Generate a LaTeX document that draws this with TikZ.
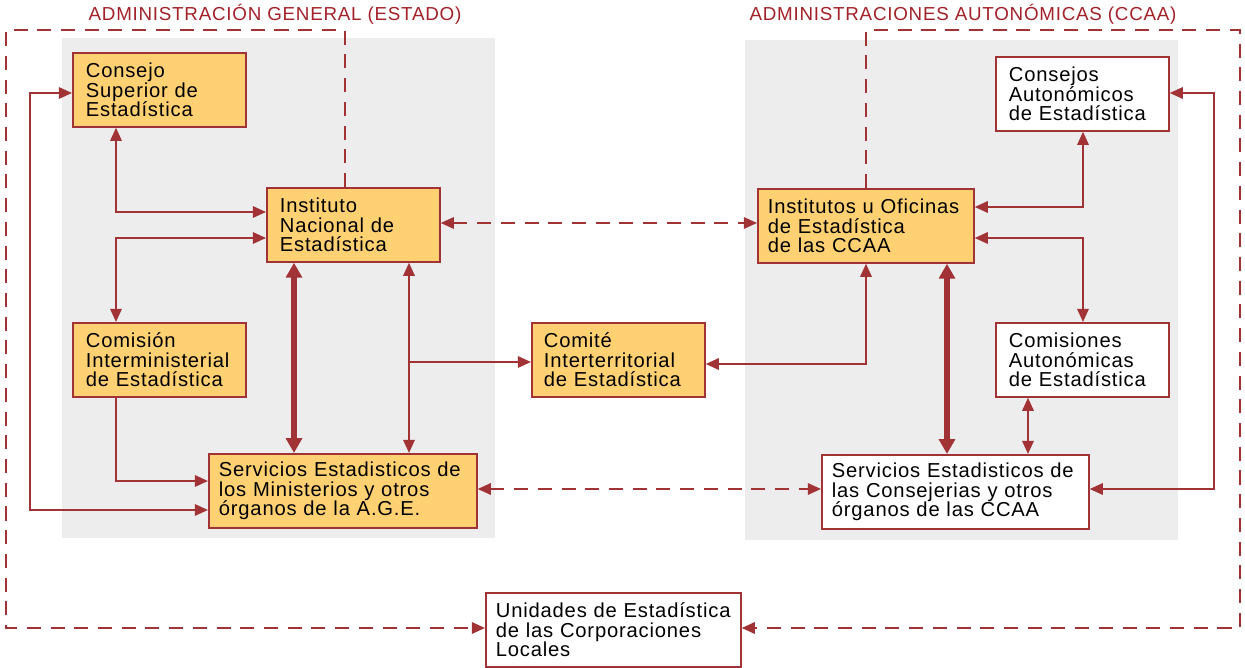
\documentclass[tikz,border=0pt]{standalone}
\usepackage{fontspec}
\setmainfont{Liberation Sans}[LetterSpace=4]
\usetikzlibrary{arrows.meta}
\definecolor{linecolor}{rgb}{0.63,0.2,0.21}
\definecolor{titlecolor}{rgb}{0.64,0.13,0.16}
\definecolor{boxcolor}{rgb}{1,0.82,0.45}
\definecolor{panelcolor}{rgb}{0.93,0.93,0.93}

\begin{document}
\begin{tikzpicture}[x=0.02cm, y=-0.02cm,
  >={Triangle[length=7.5pt,width=6.5pt]},
  box/.style={draw=linecolor, line width=1pt, fill=boxcolor, anchor=north west,
    align=left, inner xsep=0.26cm, inner ysep=0pt, minimum height=1.48cm,
    font=\fontsize{11.5}{11.1}\selectfont},
  wbox/.style={box, fill=white},
  link/.style={draw=linecolor, line width=1.2pt},
  trunk/.style={draw=linecolor, line width=3pt, >={Triangle[length=8.5pt,width=9pt]}},
  dlink/.style={link, dash pattern=on 8pt off 5.5pt},
  title/.style={text=titlecolor, font=\fontsize{10.7}{12}\selectfont}]
  \useasboundingbox (0,0) rectangle (1245,668);

  % panels
  \fill[panelcolor] (62,38) rectangle (495,538);
  \fill[panelcolor] (745,40) rectangle (1178,540);
  \node[title] (tage) at (275,14) {ADMINISTRACIÓN GENERAL (ESTADO)};
  \node[title] (tccaa) at (963,14) {ADMINISTRACIONES AUTONÓMICAS (CCAA)};

  % boxes
  \node[box, text width=2.94cm] (csup) at (72,52) {Consejo\\Superior de\\Estadística};
  \node[box, text width=2.94cm] (ine) at (266,187) {Instituto\\Nacional de\\Estadística};
  \node[box, text width=2.94cm] (cimi) at (72,322) {Comisión\\Interministerial\\de Estadística};
  \node[box, text width=4.96cm, inner xsep=0.2cm] (smin) at (208,453) {Servicios Estadisticos de\\los Ministerios y otros\\órganos de la A.G.E.};
  \node[box, text width=2.98cm, inner xsep=0.24cm] (comite) at (531,322) {Comité\\Interterritorial\\de Estadística};
  \node[box, text width=3.92cm, inner xsep=0.2cm] (iccaa) at (757,188) {Institutos u Oficinas\\de Estadística\\de las CCAA};
  \node[wbox, text width=2.94cm] (cons) at (995,56) {Consejos\\Autonómicos\\de Estadística};
  \node[wbox, text width=2.94cm] (comis) at (995,322) {Comisiones\\Autonómicas\\de Estadística};
  \node[wbox, text width=4.94cm, inner xsep=0.2cm] (sccaa) at (821,454) {Servicios Estadisticos de\\las Consejerias y otros\\órganos de las CCAA};
  \node[wbox, text width=4.7cm, inner xsep=0.2cm] (unid) at (485,592) {Unidades de Estadística\\de las Corporaciones\\Locales};

  % estado
  \draw[link,<->] (csup.south -| 116,0) |- (ine.west |- 0,212);
  \draw[link,<->] (cimi.north -| 116,0) |- (ine.west |- 0,238);
  \draw[link,<->] (csup.west |- 0,93) -| (30,510) -- (smin.west |- 0,510);
  \draw[link,->] (cimi.south -| 116,0) |- (smin.west |- 0,481);
  \draw[trunk,<->] (ine.south -| 294,0) -- (smin.north -| 294,0);
  \draw[link,<->] (ine.south -| 409,0) -- (smin.north -| 409,0);
  \draw[link,->] (409,362) -- (comite.west |- 0,362);

  % ccaa
  \draw[link,<->] (iccaa.south -| 866,0) |- (comite.east |- 0,364);
  \draw[trunk,<->] (iccaa.south -| 947,0) -- (sccaa.north -| 947,0);
  \draw[link,<->] (cons.south -| 1083,0) |- (iccaa.east |- 0,207);
  \draw[link,<->] (comis.north -| 1083,0) |- (iccaa.east |- 0,238);
  \draw[link,<->] (comis.south -| 1028,0) -- (sccaa.north -| 1028,0);
  \draw[link,<->] (cons.east |- 0,93) -| (1214,489) -- (sccaa.east |- 0,489);

  % dashed
  \draw[dlink,<->] (ine.east |- 0,223) -- (iccaa.west |- 0,223);
  \draw[dlink,<->] (smin.east |- 0,489) -- (sccaa.west |- 0,489);
  \draw[dlink,->] (ine.north -| 345,0) -- (345,30) -| (6,628) -- (unid.west |- 0,628);
  \draw[dlink,->] (iccaa.north -| 866,0) -- (866,30) -| (1240,628) -- (unid.east |- 0,628);
\end{tikzpicture}
\end{document}
